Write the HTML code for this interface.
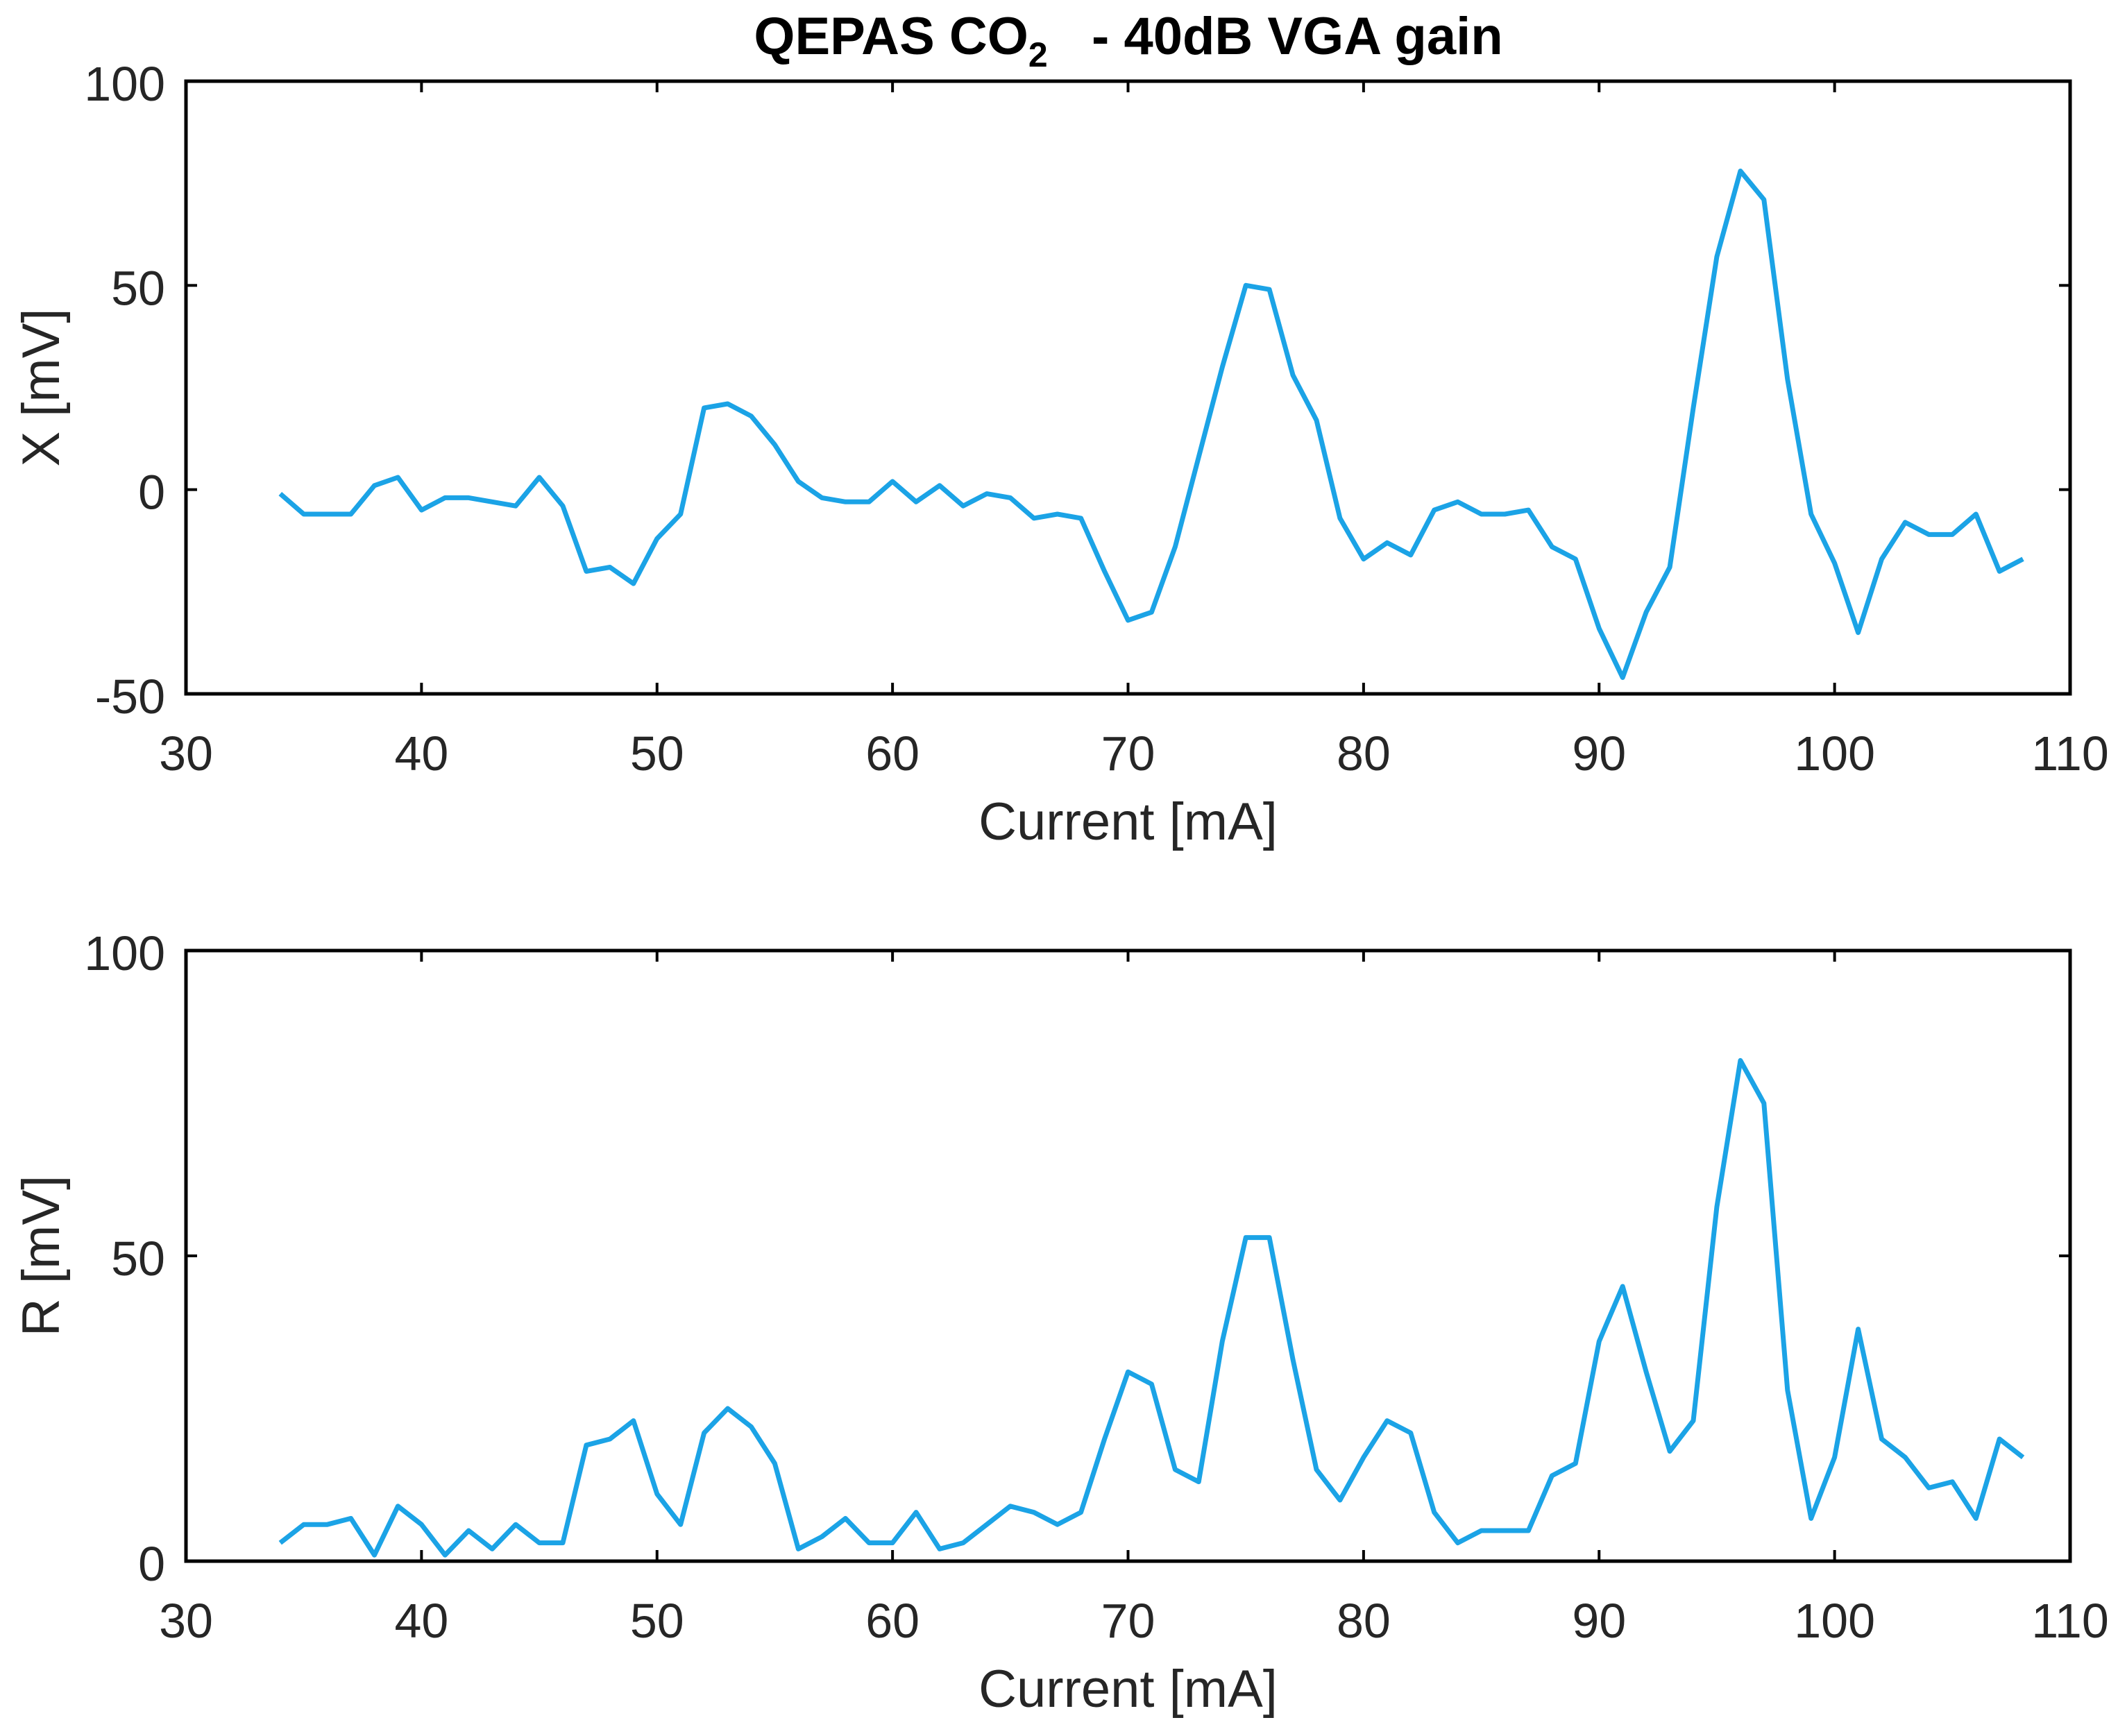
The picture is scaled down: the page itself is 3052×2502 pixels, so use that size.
<!DOCTYPE html>
<html><head><meta charset="utf-8"><style>
html,body{margin:0;padding:0;background:#fff}
svg{display:block}
text{font-family:"Liberation Sans",sans-serif;fill:#262626}
</style></head><body>
<svg id="chart" width="3052" height="2502" viewBox="0 0 3052 2502" xmlns="http://www.w3.org/2000/svg">
<text x="1626" y="78" text-anchor="middle" font-size="76" font-weight="bold" style="fill:#000">QEPAS CO<tspan font-size="50" dy="18">2</tspan><tspan dy="-18">&#160;&#160; - 40dB VGA gain</tspan></text>
<g id="top"></g>
<g id="bot"></g>
</svg>
<script>
const currents = [34,35,36,37,38,39,40,41,42,43,44,45,46,47,48,49,50,51,52,53,54,55,56,57,58,59,60,61,62,63,64,65,66,67,68,69,70,71,72,73,74,75,76,77,78,79,80,81,82,83,84,85,86,87,88,89,90,91,92,93,94,95,96,97,98,99,100,101,102,103,104,105,106,107,108];
const xValues = [-1,-6,-6,-6,1,3,-5,-2,-2,-3,-4,3,-4,-20,-19,-23,-12,-6,20,21,18,11,2,-2,-3,-3,2,-3,1,-4,-1,-2,-7,-6,-7,-20,-32,-30,-14,8,30,50,49,28,17,-7,-17,-13,-16,-5,-3,-6,-6,-5,-14,-17,-34,-46,-30,-19,20,57,78,71,27,-6,-18,-35,-17,-8,-11,-11,-6,-20,-17];
const rValues = [3,6,6,7,1,9,6,1,5,2,6,3,3,19,20,23,11,6,21,25,22,16,2,4,7,3,3,8,2,3,6,9,8,6,8,20,31,29,15,13,36,53,53,33,15,10,17,23,21,8,3,5,5,5,14,16,36,45,31,18,23,58,82,75,28,7,17,38,20,17,12,13,7,20,17];
const xTicks = [30,40,50,60,70,80,90,100,110];
const topYTicks = [-50,0,50,100];
const botYTicks = [0,50,100];
const NS='http://www.w3.org/2000/svg';
function mk(parent,tag,attrs){const e=document.createElementNS(NS,tag);for(const k in attrs)e.setAttribute(k,attrs[k]);parent.appendChild(e);return e;}
function panel(g,top,bottom,ymin,ymax,yticks,vals,ylabel,prefix){
  const L=268,R=2983;
  const sx=v=>L+(v-30)/80*(R-L);
  const sy=v=>bottom-(v-ymin)/(ymax-ymin)*(bottom-top);
  const d=currents.map((c,i)=>(i?'L':'M')+sx(c).toFixed(1)+' '+sy(vals[i]).toFixed(1)).join(' ');
  const line=mk(g,'path',{d:d,fill:'none',stroke:'#1ba3e6','stroke-width':7,'stroke-linejoin':'round'});
  
  
  const box=mk(g,'rect',{x:L,y:top,width:R-L,height:bottom-top,fill:'none',stroke:'#000','stroke-width':5});
  
  
  xTicks.forEach(t=>{
    const x=sx(t);
    mk(g,'line',{x1:x,y1:bottom,x2:x,y2:bottom-16,stroke:'#000','stroke-width':4});
    mk(g,'line',{x1:x,y1:top,x2:x,y2:top+16,stroke:'#000','stroke-width':4});
    const tl=mk(g,'text',{x:x,y:bottom+110,'text-anchor':'middle','font-size':70});
    tl.textContent=t;
    
    
  });
  yticks.forEach(t=>{
    const y=sy(t);
    mk(g,'line',{x1:L,y1:y,x2:L+16,y2:y,stroke:'#000','stroke-width':4});
    mk(g,'line',{x1:R,y1:y,x2:R-16,y2:y,stroke:'#000','stroke-width':4});
    const tl=mk(g,'text',{x:L-30,y:y+28,'text-anchor':'end','font-size':70});
    tl.textContent=t;
    
    
  });
  const xl=mk(g,'text',{x:(L+R)/2,y:bottom+210,'text-anchor':'middle','font-size':76});
  xl.textContent='Current [mA]';
  
  
  const yc=(top+bottom)/2;
  const yl=mk(g,'text',{x:85,y:yc,'text-anchor':'middle','font-size':76,transform:'rotate(-90 85 '+yc+')'});
  yl.textContent=ylabel;
  
  
}
panel(document.getElementById('top'),117,1000,-50,100,topYTicks,xValues,'X [mV]','top');
panel(document.getElementById('bot'),1370,2250,0,100,botYTicks,rValues,'R [mV]','bottom');
</script>
</body></html>
